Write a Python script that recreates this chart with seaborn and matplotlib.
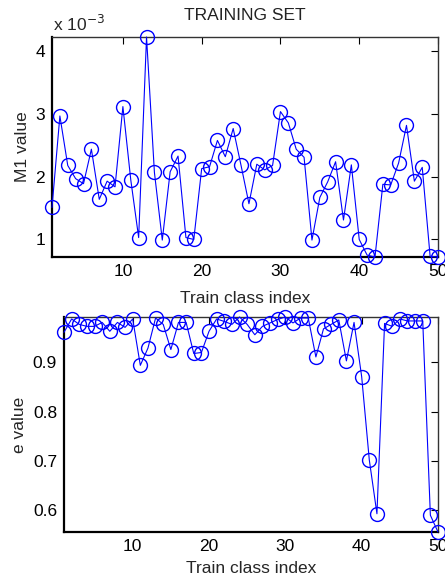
import numpy as np
import pandas as pd
import seaborn as sns
import matplotlib.pyplot as plt

# values, index 1..50
class_idx = list(range(1, 51))

# M1 value, in units of 1e-3
m1_vals = [1.51, 2.97, 2.18, 1.97, 1.89, 2.44, 1.64, 1.93, 1.84, 3.12,
           1.95, 1.03, 4.23, 2.07, 0.99, 2.08, 2.33, 1.03, 1.00, 2.13,
           2.16, 2.58, 2.32, 2.77, 2.18, 1.57, 2.20, 2.11, 2.18, 3.04,
           2.86, 2.44, 2.31, 0.99, 1.67, 1.92, 2.24, 1.31, 2.19, 1.00,
           0.75, 0.72, 1.88, 1.87, 2.22, 2.82, 1.93, 2.15, 0.73, 0.72]

e_vals = [0.961, 0.988, 0.977, 0.973, 0.973, 0.981, 0.963, 0.981, 0.971, 0.988,
          0.894, 0.929, 0.990, 0.977, 0.926, 0.981, 0.981, 0.918, 0.920, 0.963,
          0.988, 0.983, 0.977, 0.992, 0.977, 0.956, 0.973, 0.980, 0.987, 0.992,
          0.980, 0.990, 0.990, 0.911, 0.968, 0.977, 0.986, 0.903, 0.981, 0.871,
          0.702, 0.593, 0.979, 0.973, 0.988, 0.984, 0.984, 0.984, 0.590, 0.556]

df = pd.DataFrame({"idx": class_idx, "m1": m1_vals, "e": e_vals})

sns.set_style("white")
plt.rcParams['font.family'] = ['Liberation Sans', 'DejaVu Sans']
plt.rcParams['font.size'] = 12.5

fig = plt.figure(figsize=(4.45, 5.81), dpi=100)
ax1 = fig.add_axes([52 / 445, 1 - 257 / 581, 386 / 445, 220 / 581])
ax2 = fig.add_axes([64 / 445, 1 - 532 / 581, 374 / 445, 215 / 581])

line_kw = dict(color="blue", linewidth=0.8, marker="o", markersize=10,
               markerfacecolor="none", markeredgecolor="blue", markeredgewidth=1.0,
               clip_on=False, zorder=5)

sns.lineplot(data=df, x="idx", y="m1", ax=ax1, **line_kw)
sns.lineplot(data=df, x="idx", y="e", ax=ax2, **line_kw)

for ax, lab, col, xpad in [(ax1, "M1 value", "m1", 9), (ax2, "e value", "e", 5)]:
    ax.set_xlim(1, 50)
    ax.set_ylim(df[col].min(), df[col].max())
    ax.set_xticks([10, 20, 30, 40, 50])
    ax.set_xlabel("Train class index", labelpad=xpad)
    ax.set_ylabel(lab, labelpad=4)
    ax.tick_params(direction="in", top=True, right=True, length=5, width=0.8,
                   colors="black", pad=5)
    for s in ["bottom", "left"]:
        ax.spines[s].set_linewidth(1.6)
        ax.spines[s].set_color("black")
    for s in ["top", "right"]:
        ax.spines[s].set_linewidth(1.0)
        ax.spines[s].set_color("#333333")

ax1.set_yticks([1, 2, 3, 4])
ax2.set_yticks([0.6, 0.7, 0.8, 0.9])
ax2.set_yticklabels(["0.6", "0.7", "0.8", "0.9"])

fig.text(245 / 445, 1 - 16 / 581, "TRAINING SET", ha="center", va="center",
         color="#222222")
fig.text(53 / 445, 1 - 24 / 581, "x 10$^{-3}$", ha="left", va="center")

fig.savefig("out.png", dpi=100)
